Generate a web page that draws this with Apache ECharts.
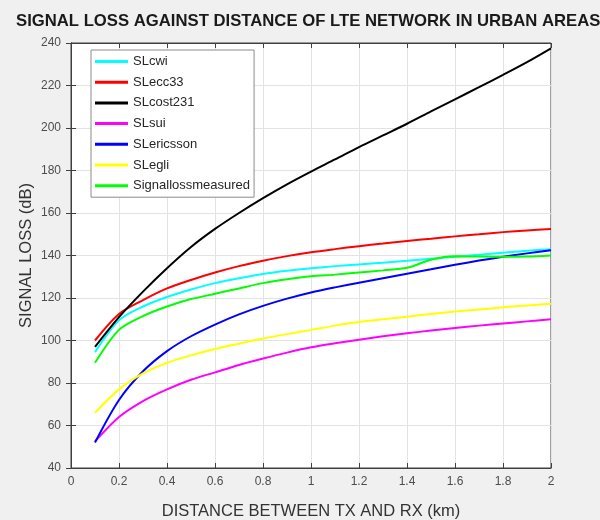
<!DOCTYPE html>
<html>
<head>
<meta charset="utf-8">
<script src="https://cdn.jsdelivr.net/npm/echarts@6/dist/echarts.min.js"></script>
<style>
  html, body { margin: 0; padding: 0; background: #f0f0f0; }
  #chart { width: 600px; height: 520px; }
</style>
</head>
<body>
<div id="chart"></div>
<script>
const distance = [0.1, 0.2, 0.3, 0.4, 0.5, 0.6, 0.7, 0.8, 0.9, 1.0, 1.1, 1.2, 1.3, 1.4, 1.5, 1.6, 1.7, 1.8, 1.9, 2.0]

const slCwi = [94.5, 109.5, 116, 120.5, 124, 127, 129.3, 131.3, 132.8, 134, 135, 135.8, 136.6, 137.5, 138.5, 139.4, 140.3, 141.3, 142.2, 143]
const slEcc33 = [100, 112.5, 119, 124.5, 128.5, 132, 135, 137.5, 139.7, 141.5, 143, 144.4, 145.6, 146.8, 147.9, 149, 150, 151, 151.8, 152.5]
const slCost231 = [97, 111, 123, 134, 144, 152.5, 160, 167, 173.5, 179.5, 185.2, 191, 196.5, 202, 207.8, 213.5, 219.2, 225, 231, 237.5]
const slSui = [52.5, 64, 71.5, 77, 81.5, 85, 88.5, 91.5, 94.3, 96.8, 98.7, 100.4, 102, 103.4, 104.7, 105.9, 107, 108, 109, 110]
const slEricsson = [52, 72, 85.5, 95, 102, 107.5, 112.3, 116.3, 119.7, 122.6, 125, 127.2, 129.3, 131.4, 133.5, 135.6, 137.6, 139.4, 141, 142.5]
const slEgli = [66, 77, 84.5, 89.5, 93, 96, 98.5, 100.9, 103, 105, 107, 108.7, 110, 111.2, 112.5, 113.6, 114.6, 115.6, 116.5, 117.3]
const slMeasured = [89.5, 105, 111.5, 116, 119.5, 122, 124.5, 127, 128.8, 130.2, 131, 132, 133, 134.2, 138, 139.6, 139.5, 139.4, 139.5, 140]

const seriesNames = ['SLcwi', 'SLecc33', 'SLcost231', 'SLsui', 'SLericsson', 'SLegli', 'Signallossmeasured']
const seriesValues = [slCwi, slEcc33, slCost231, slSui, slEricsson, slEgli, slMeasured]
const lineColor = ['#00ffff', '#ff0000', '#000000', '#ff00ff', '#0000ff', '#ffff00', '#00ff00']

const chart = echarts.init(document.getElementById('chart'))

const seriesData = []
for (let i = 0; i < seriesNames.length; i++) {
  seriesData.push({
    name: seriesNames[i],
    type: 'line',
    smooth: 0.3,
    showSymbol: false,
    lineStyle: { width: 2, color: lineColor[i] },
    itemStyle: { color: lineColor[i] },
    data: distance.map((d, k) => [d, seriesValues[i][k]])
  })
}

const axisText = { color: '#4d4d4d', fontSize: 12, fontFamily: 'Liberation Sans' }
const tick = { show: true, inside: true, length: 5, lineStyle: { color: '#404040' } }

const option = {
  backgroundColor: '#f0f0f0',
  animation: false,
  title: {
    text: 'SIGNAL LOSS AGAINST DISTANCE OF LTE NETWORK IN URBAN AREAS',
    left: 16,
    top: 13,
    padding: 0,
    textStyle: { fontSize: 16.7, fontWeight: 'bold', color: '#1a1a1a', fontFamily: 'Liberation Sans' }
  },
  legend: {
    orient: 'vertical',
    left: 91,
    top: 50,
    padding: [5, 4, 5, 4],
    icon: 'rect',
    itemWidth: 33,
    itemHeight: 3,
    itemGap: 7.7,
    backgroundColor: '#fff',
    borderColor: '#8c8c8c',
    borderWidth: 1,
    textStyle: { fontSize: 13, color: '#262626', fontFamily: 'Liberation Sans' },
    data: seriesNames
  },
  grid: {
    left: 71,
    right: 49,
    top: 43,
    bottom: 52,
    outerBoundsMode: 'none',
    show: true,
    backgroundColor: '#fff',
    borderColor: '#404040',
    borderWidth: 1
  },
  xAxis: [
    {
      type: 'value',
      min: 0,
      max: 2,
      interval: 0.2,
      name: 'DISTANCE BETWEEN TX AND RX (km)',
      nameLocation: 'middle',
      nameGap: 35,
      nameTextStyle: { fontSize: 16.5, color: '#333', fontFamily: 'Liberation Sans' },
      axisLine: { lineStyle: { color: '#404040' } },
      axisTick: tick,
      axisLabel: Object.assign({ margin: 8 }, axisText),
      splitLine: { show: true, lineStyle: { color: '#e3e3e3' } }
    },
    {
      type: 'value',
      position: 'top',
      min: 0,
      max: 2,
      interval: 0.2,
      axisLine: { lineStyle: { color: '#404040' } },
      axisTick: tick,
      axisLabel: { show: false },
      splitLine: { show: false }
    }
  ],
  yAxis: [
    {
      type: 'value',
      min: 40,
      max: 240,
      interval: 20,
      name: 'SIGNAL LOSS (dB)',
      nameLocation: 'middle',
      nameGap: 36,
      nameMoveOverlap: false,
      nameTextStyle: { fontSize: 16.5, color: '#333', fontFamily: 'Liberation Sans' },
      axisLine: { show: true, lineStyle: { color: '#404040' } },
      axisTick: tick,
      axisLabel: Object.assign({ margin: 10 }, axisText),
      splitLine: { show: true, lineStyle: { color: '#e3e3e3' } }
    },
    {
      type: 'value',
      position: 'right',
      min: 40,
      max: 240,
      interval: 20,
      axisLine: { show: true, lineStyle: { color: '#404040' } },
      axisTick: tick,
      axisLabel: { show: false },
      splitLine: { show: false }
    }
  ],
  series: seriesData
}

chart.setOption(option)
</script>
</body>
</html>
